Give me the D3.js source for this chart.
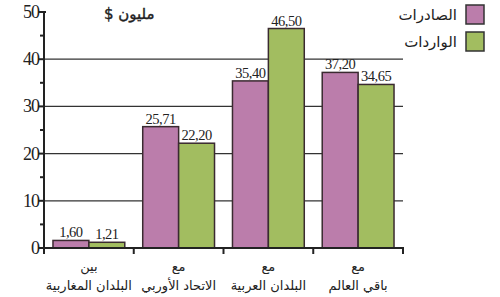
<!DOCTYPE html>
<html>
<head>
<meta charset="utf-8">
<script src="https://cdn.jsdelivr.net/npm/d3@7"></script>
<style>
  body { margin: 0; background: #fff; }
  svg { display: block; }
  .num { font-family: "Liberation Serif", "DejaVu Serif", serif; fill: #222; }
  .ar { font-family: "DejaVu Sans", sans-serif; fill: #222; }
</style>
</head>
<body>
<svg id="chart" width="500" height="297"></svg>
<script>
// categories: two-line labels (top / bottom)
var catTop = ["بين", "مع", "مع", "مع"]
var catBottom = ["البلدان المغاربية", "الاتحاد الأوربي", "البلدان العربية", "باقي العالم"]
var seriesNames = ["الصادرات", "الواردات"]
var exportsVals = [1.60, 25.71, 35.40, 37.20]
var importsVals = [1.21, 22.20, 46.50, 34.65]
var valueLabels = [["1,60", "25,71", "35,40", "37,20"], ["1,21", "22,20", "46,50", "34,65"]]
var yTicks = [0, 10, 20, 30, 40, 50]
var yMinor = [5, 15, 25, 35, 45]

var colors = ["#bb7dab", "#a2bd60"]

var svg = d3.select("#chart")
var plotLeft = 44, plotRight = 403, plotTop = 12, plotBottom = 248

var x = d3.scaleBand().domain(d3.range(4)).range([plotLeft, plotRight])
  .paddingInner(0.2).paddingOuter(0.1)
var step = (plotRight - plotLeft) / 4
var y = d3.scaleLinear().domain([0, 50]).range([plotBottom, plotTop])
var bw = x.bandwidth() / 2

//gridlines
svg.append("g").selectAll("line")
  .data([10, 20, 30, 40])
  .enter().append("line")
  .attr("x1", plotLeft).attr("x2", plotRight)
  .attr("y1", d => y(d)).attr("y2", d => y(d))
  .attr("stroke", "#333").attr("stroke-width", 1.2)

//bars
var data = []
exportsVals.forEach((v, i) => data.push({ i: i, s: 0, v: v }))
importsVals.forEach((v, i) => data.push({ i: i, s: 1, v: v }))

svg.append("g").selectAll("rect")
  .data(data)
  .enter().append("rect")
  .attr("x", d => x(d.i) + d.s * bw)
  .attr("y", d => y(d.v))
  .attr("width", bw)
  .attr("height", d => y(0) - y(d.v))
  .attr("fill", d => colors[d.s])
  .attr("stroke", "#3a2a30").attr("stroke-width", 1.5)

svg.append("g").selectAll("text")
  .data(data)
  .enter().append("text")
  .attr("class", "num")
  .attr("x", d => x(d.i) + d.s * bw + bw / 2)
  .attr("y", d => y(d.v) - 3)
  .attr("text-anchor", "middle")
  .attr("font-size", 14.5)
  .attr("letter-spacing", -0.5)
  .text(d => valueLabels[d.s][d.i])

//y axis
var yAxis = svg.append("g")
yAxis.append("line")
  .attr("x1", plotLeft).attr("x2", plotLeft)
  .attr("y1", y(0)).attr("y2", y(50))
  .attr("stroke", "#222").attr("stroke-width", 2)
yAxis.selectAll("line.major")
  .data(yTicks)
  .enter().append("line")
  .attr("class", "major")
  .attr("x1", plotLeft - 6).attr("x2", d => d === 50 || d === 0 ? plotLeft + 2 : plotLeft)
  .attr("y1", d => y(d)).attr("y2", d => y(d))
  .attr("stroke", "#222").attr("stroke-width", 2)
yAxis.selectAll("line.minor")
  .data(yMinor)
  .enter().append("line")
  .attr("class", "minor")
  .attr("x1", plotLeft - 4).attr("x2", plotLeft)
  .attr("y1", d => y(d)).attr("y2", d => y(d))
  .attr("stroke", "#222").attr("stroke-width", 2)
yAxis.selectAll("text")
  .data(yTicks)
  .enter().append("text")
  .attr("class", "num")
  .attr("x", plotLeft - 5)
  .attr("y", d => y(d) + 6)
  .attr("text-anchor", "end")
  .attr("font-size", 18)
  .attr("letter-spacing", -1)
  .text(d => d)

//x axis
var xAxis = svg.append("g")
xAxis.append("line")
  .attr("x1", plotLeft - 6).attr("x2", plotRight + 1)
  .attr("y1", y(0)).attr("y2", y(0))
  .attr("stroke", "#222").attr("stroke-width", 2)
xAxis.selectAll("line.tick")
  .data(d3.range(5))
  .enter().append("line")
  .attr("class", "tick")
  .attr("x1", d => plotLeft + d * step).attr("x2", d => plotLeft + d * step)
  .attr("y1", y(0)).attr("y2", y(0) + 6)
  .attr("stroke", "#222").attr("stroke-width", 2)

xAxis.selectAll("text.top")
  .data(catTop)
  .enter().append("text")
  .attr("class", "ar top")
  .attr("x", (d, i) => x(i) + x.bandwidth() / 2)
  .attr("y", 271)
  .attr("text-anchor", "middle")
  .attr("font-size", 13)
  .text(d => d)
xAxis.selectAll("text.bottom")
  .data(catBottom)
  .enter().append("text")
  .attr("class", "ar bottom")
  .attr("x", (d, i) => x(i) + x.bandwidth() / 2)
  .attr("y", 290)
  .attr("text-anchor", "middle")
  .attr("font-size", 13)
  .text(d => d)

//unit label
svg.append("text")
  .attr("class", "ar")
  .attr("x", 104).attr("y", 19)
  .attr("text-anchor", "end")
  .attr("font-size", 15)
  .attr("direction", "rtl")
  .attr("stroke", "#222").attr("stroke-width", 0.4)
  .text("مليون $")

//legend
var legend = svg.append("g")
seriesNames.forEach((name, i) => {
  legend.append("rect")
    .attr("x", 466).attr("y", 5 + i * 27)
    .attr("width", 18).attr("height", 19)
    .attr("fill", colors[i])
    .attr("stroke", "#333").attr("stroke-width", 1.5)
  legend.append("text")
    .attr("class", "ar")
    .attr("x", 457).attr("y", 20 + i * 27)
    .attr("text-anchor", "end")
    .attr("font-size", 15)
    .text(name)
})
</script>
</body>
</html>
